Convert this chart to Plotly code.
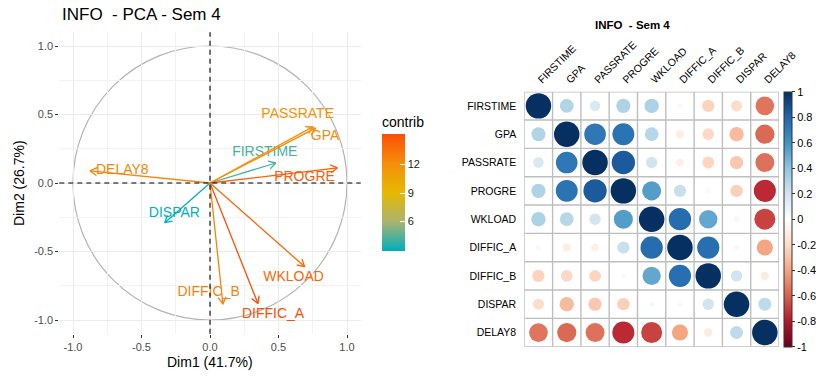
import numpy as np
import plotly.graph_objects as go
from plotly.colors import sample_colorscale

# ---------------- data ----------------
variables = ["FIRSTIME", "GPA", "PASSRATE", "PROGRE", "WKLOAD",
             "DIFFIC_A", "DIFFIC_B", "DISPAR", "DELAY8"]
dim1 = [0.48, 0.77, 0.75, 0.93, 0.69, 0.35, 0.094, -0.33, -0.876]
dim2 = [0.146, 0.40, 0.41, 0.11, -0.61, -0.88, -0.883, -0.29, 0.088]
contrib = [4.1, 12.2, 11.8, 14.3, 13.9, 15.15, 12.6, 2.85, 12.5]

pca_ticks = [-1.0, -0.5, 0.0, 0.5, 1.0]
pca_tick_text = ["-1.0", "-0.5", "0.0", "0.5", "1.0"]
contrib_ticks = [6, 9, 12]

corr_labels = variables
corr = [
    [1.00, 0.30, 0.17, 0.31, 0.32, 0.04, -0.23, -0.19, -0.54],
    [0.30, 1.00, 0.72, 0.74, 0.29, -0.10, -0.21, -0.32, -0.57],
    [0.17, 0.72, 1.00, 0.84, 0.20, -0.09, -0.22, -0.27, -0.55],
    [0.31, 0.74, 0.84, 1.00, 0.56, 0.23, 0.04, -0.24, -0.75],
    [0.32, 0.29, 0.20, 0.56, 1.00, 0.77, 0.52, -0.05, -0.68],
    [0.04, -0.10, -0.09, 0.23, 0.77, 1.00, 0.76, 0.04, -0.40],
    [-0.23, -0.21, -0.22, 0.04, 0.52, 0.76, 1.00, 0.20, -0.11],
    [-0.19, -0.32, -0.27, -0.24, -0.05, 0.04, 0.20, 1.00, 0.26],
    [-0.54, -0.57, -0.55, -0.75, -0.68, -0.40, -0.11, 0.26, 1.00],
]
corr_ticks = [1, 0.8, 0.6, 0.4, 0.2, 0, -0.2, -0.4, -0.6, -0.8, -1]
corr_tick_text = ["1", "0.8", "0.6", "0.4", "0.2", "0", "-0.2", "-0.4", "-0.6", "-0.8", "-1"]

# label placement (repelled text positions, layout only)
label_pos = [(0.40, 0.22), (0.84, 0.34), (0.64, 0.50), (0.69, 0.04), (0.61, -0.69),
             (0.46, -0.96), (-0.01, -0.80), (-0.26, -0.22), (-0.64, 0.09)]

# ---------------- styling ----------------
W, H = 816, 377
FONT = "Liberation Sans, Arial, Helvetica, sans-serif"
contrib_scale = [[0.0, "#00AFBB"], [0.25, "#ABB370"], [0.5, "#E7B800"],
                 [0.75, "#F58E09"], [1.0, "#FC4E07"]]
rdbu = ["#67001F", "#B2182B", "#D6604D", "#F4A582", "#FDDBC7", "#FFFFFF",
        "#D1E5F0", "#92C5DE", "#4393C3", "#2166AC", "#053061"]
corr_scale = [[i / 10, c] for i, c in enumerate(rdbu)]

def px(x):
    return x / W

def py(y):
    return 1 - y / H

# left panel geometry (pixels)
L_x0, L_x1, L_y0, L_y1 = 59.3, 360.7, 32.3, 333.7
# right panel geometry
R_x0, R_x1, R_y0, R_y1 = 524.3, 779.0, 91.7, 346.7
n = len(corr_labels)
cell_px = (R_x1 - R_x0) / n

fig = go.Figure()

# ---------- left: PCA variable plot ----------
cmin, cmax = min(contrib), max(contrib)
head_len = 0.058
for i, v in enumerate(variables):
    x, y = dim1[i], dim2[i]
    col = sample_colorscale(contrib_scale, [(contrib[i] - cmin) / (cmax - cmin)])[0]
    ang = np.arctan2(y, x)
    hx1 = x - head_len * np.cos(ang + np.pi / 6)
    hy1 = y - head_len * np.sin(ang + np.pi / 6)
    hx2 = x - head_len * np.cos(ang - np.pi / 6)
    hy2 = y - head_len * np.sin(ang - np.pi / 6)
    fig.add_trace(go.Scatter(
        x=[0, x, None, hx1, x, hx2], y=[0, y, None, hy1, y, hy2],
        mode="lines", line=dict(color=col, width=1.3),
        xaxis="x", yaxis="y", hoverinfo="skip", showlegend=False))
    lx, ly = label_pos[i]
    fig.add_trace(go.Scatter(
        x=[lx], y=[ly], mode="text", text=[v],
        textfont=dict(family=FONT, size=14, color=col),
        xaxis="x", yaxis="y", hoverinfo="skip", showlegend=False))

# dummy trace for contrib colorbar
fig.add_trace(go.Scatter(
    x=dim1, y=dim2, mode="markers",
    marker=dict(color=contrib, coloraxis="coloraxis", size=1, opacity=0),
    xaxis="x", yaxis="y", hoverinfo="skip", showlegend=False))

# ---------- right: correlation circles ----------
cx, cy, cv, cs = [], [], [], []
for r, row in enumerate(corr):
    for c, val in enumerate(row):
        cx.append(c + 1)
        cy.append(r + 1)
        cv.append(val)
        cs.append(0.9 * np.sqrt(abs(val)) * cell_px)
fig.add_trace(go.Scatter(
    x=cx, y=cy, mode="markers",
    marker=dict(color=cv, coloraxis="coloraxis2", size=cs, opacity=1, line=dict(width=0)),
    xaxis="x2", yaxis="y2", hoverinfo="skip", showlegend=False))

shapes = []
# unit circle and dashed axes
shapes.append(dict(type="circle", xref="x", yref="y", x0=-1, y0=-1, x1=1, y1=1,
                   line=dict(color="#B3B3B3", width=1.2), layer="below"))
shapes.append(dict(type="line", xref="x", yref="paper", x0=0, x1=0,
                   y0=py(L_y1), y1=py(L_y0), line=dict(color="black", width=1.1, dash="5px,4px")))
shapes.append(dict(type="line", xref="paper", yref="y", y0=0, y1=0,
                   x0=px(L_x0), x1=px(L_x1), line=dict(color="black", width=1.1, dash="5px,4px")))
# correlation grid
for k in range(n + 1):
    b = k + 0.5
    shapes.append(dict(type="line", xref="x2", yref="y2", x0=b, x1=b, y0=0.5, y1=n + 0.5,
                       line=dict(color="#BEBEBE", width=1.4), layer="below"))
    shapes.append(dict(type="line", xref="x2", yref="y2", y0=b, y1=b, x0=0.5, x1=n + 0.5,
                       line=dict(color="#BEBEBE", width=1.4), layer="below"))

annotations = [
    dict(text="INFO  - PCA - Sem 4", x=px(60), y=py(15), xref="paper", yref="paper",
         xanchor="left", yanchor="middle", showarrow=False,
         font=dict(family=FONT, size=17, color="black")),
    dict(text="Dim1 (41.7%)", x=px(210), y=py(362), xref="paper", yref="paper",
         xanchor="center", yanchor="middle", showarrow=False,
         font=dict(family=FONT, size=14, color="black")),
    dict(text="Dim2 (26.7%)", x=px(19), y=py(183), xref="paper", yref="paper",
         xanchor="center", yanchor="middle", showarrow=False, textangle=-90,
         font=dict(family=FONT, size=14, color="black")),
    dict(text="<b>INFO  - Sem 4</b>", x=px(632.7), y=py(25), xref="paper", yref="paper",
         xanchor="center", yanchor="middle", showarrow=False,
         font=dict(family=FONT, size=11.5, color="black")),
]

grid_major = "#EBEBEB"
fig.update_layout(
    width=W, height=H, autosize=False,
    margin=dict(l=0, r=0, t=0, b=0, pad=0, autoexpand=False),
    paper_bgcolor="white", plot_bgcolor="white",
    font=dict(family=FONT),
    showlegend=False,
    shapes=shapes, annotations=annotations,
    xaxis=dict(domain=[px(L_x0), px(L_x1)], range=[-1.1, 1.1], anchor="y", automargin=False,
               tickvals=pca_ticks, ticktext=pca_tick_text,
               showgrid=True, gridcolor=grid_major, gridwidth=1.1,
               minor=dict(showgrid=True, gridcolor="#F2F2F2", gridwidth=0.7, tick0=-0.75, dtick=0.5),
               zeroline=False, showline=False,
               ticks="outside", ticklen=3, tickcolor="#333333", tickwidth=1,
               tickfont=dict(family=FONT, size=11, color="#4D4D4D")),
    yaxis=dict(domain=[py(L_y1), py(L_y0)], range=[-1.1, 1.1], anchor="x", automargin=False,
               tickvals=pca_ticks, ticktext=pca_tick_text,
               showgrid=True, gridcolor=grid_major, gridwidth=1.1,
               minor=dict(showgrid=True, gridcolor="#F2F2F2", gridwidth=0.7, tick0=-0.75, dtick=0.5),
               zeroline=False, showline=False,
               ticks="outside", ticklen=3, tickcolor="#333333", tickwidth=1,
               tickfont=dict(family=FONT, size=11, color="#4D4D4D")),
    xaxis2=dict(domain=[px(R_x0), px(R_x1)], range=[0.5, n + 0.5], anchor="y2", automargin=False,
                side="top", tickvals=list(range(1, n + 1)), ticktext=corr_labels,
                tickangle=-45, showgrid=False, zeroline=False, showline=False,
                ticks="outside", ticklen=1, tickcolor="rgba(0,0,0,0)",
                tickfont=dict(family=FONT, size=10.5, color="black")),
    yaxis2=dict(domain=[py(R_y1), py(R_y0)], range=[n + 0.5, 0.5], anchor="x2", automargin=False,
                tickvals=list(range(1, n + 1)), ticktext=corr_labels,
                showgrid=False, zeroline=False, showline=False,
                ticks="outside", ticklen=5, tickcolor="rgba(0,0,0,0)",
                tickfont=dict(family=FONT, size=10.5, color="black")),
    coloraxis=dict(
        colorscale=contrib_scale, cmin=cmin, cmax=cmax,
        colorbar=dict(
            title=dict(text="contrib", side="top", font=dict(family=FONT, size=14, color="black")),
            x=px(382), xanchor="left", xpad=0, ypad=0,
            y=py(182.5), yanchor="middle", len=138.4, lenmode="pixels",
            thickness=23, thicknessmode="pixels", outlinewidth=0,
            tickvals=contrib_ticks, ticks="inside", ticklen=5, tickcolor="white", tickwidth=1,
            tickfont=dict(family=FONT, size=11, color="#1A1A1A"))),
    coloraxis2=dict(
        colorscale=corr_scale, cmin=-1, cmax=1,
        colorbar=dict(
            x=px(784), xanchor="left", xpad=0, ypad=0,
            y=py((R_y0 + R_y1) / 2), yanchor="middle", len=R_y1 - R_y0, lenmode="pixels",
            thickness=8, thicknessmode="pixels", outlinewidth=1, outlinecolor="#333333",
            tickvals=corr_ticks, ticktext=corr_tick_text,
            ticks="outside", ticklen=3, tickcolor="#333333", tickwidth=1,
            tickfont=dict(family=FONT, size=11, color="black"))),
)

fig.write_html("out.html", config={"displayModeBar": False},
               post_script="document.body.style.margin='0';document.body.style.overflow='hidden';")
